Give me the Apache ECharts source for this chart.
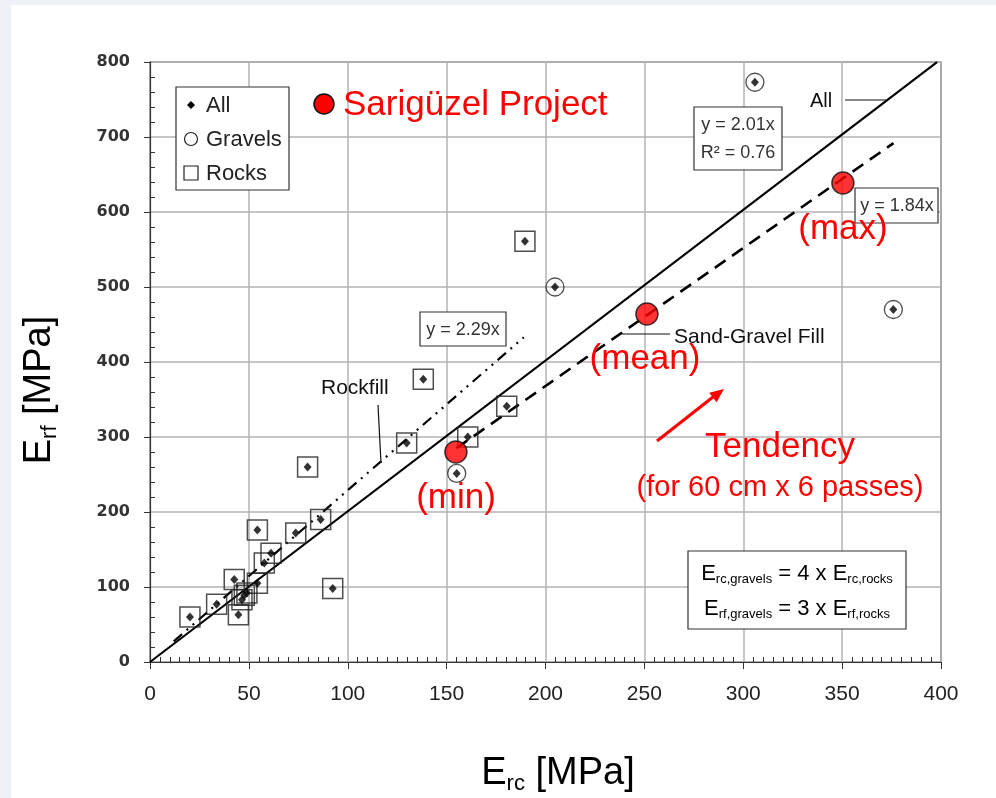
<!DOCTYPE html>
<html>
<head>
<meta charset="utf-8">
<script src="https://cdn.jsdelivr.net/npm/echarts@6/dist/echarts.min.js"></script>
<style>
  html, body { margin: 0; padding: 0; background: #eef2f6; }
  .card { position: absolute; left: 11px; top: 5px; right: 0; bottom: 0; background: #fff; }
  #chart { position: absolute; left: 0; top: 0; width: 996px; height: 798px; }
</style>
</head>
<body>
<div class="card"></div>
<div id="chart"></div>
<script>
  // rocks (squares)
  var rocksX = [20.2, 33.7, 42.6, 44.7, 46.5, 47.7, 49.0, 54.3, 54.3, 57.8, 61.2, 73.7, 79.7, 86.3, 92.4, 129.8, 138.2, 160.7, 180.4, 189.6];
  var rocksY = [60, 77, 110, 63, 83, 89, 92, 105, 176, 132, 145, 172, 260, 190, 98, 292, 377, 300, 341, 561];
  // gravels (circles)
  var gravelsX = [155.1, 204.8, 305.9, 375.9];
  var gravelsY = [251.5, 500, 773, 470];
  // Sarigüzel project (min, mean, max)
  var projectX = [154.7, 251.3, 350.4];
  var projectY = [280, 464, 638.7];
  // fitted slopes and ranges
  var slopeAll = 2.01, rangeAll = [0, 398];
  var slopeSand = 1.84, rangeSand = [155, 376];
  var slopeRock = 2.29, rangeRock = [12, 189];
  var xTicks = [0, 50, 100, 150, 200, 250, 300, 350, 400];
  var yTicks = [0, 100, 200, 300, 400, 500, 600, 700, 800];

  function pairs(xs, ys) {
    return xs.map(function (x, i) { return [x, ys[i]]; });
  }
  function fitLine(k, r) {
    return [[r[0], k * r[0]], [r[1], k * r[1]]];
  }

  var rocks = pairs(rocksX, rocksY);
  var gravels = pairs(gravelsX, gravelsY);
  var all = rocks.concat(gravels);

  var myChart = echarts.init(document.getElementById('chart'));

  var txt = '#222';
  var sans = '"Liberation Sans", Arial, sans-serif';

  function box(x, y, w, h) {
    return { type: 'rect', shape: { x: x, y: y, width: w, height: h }, style: { fill: '#fff', stroke: '#333', lineWidth: 1.2 }, z: 20 };
  }
  function label(x, y, text, size, color, align) {
    return { type: 'text', z: 21, style: { text: text, x: x, y: y, font: size + 'px ' + sans, fill: color || txt, align: align || 'center', verticalAlign: 'middle' } };
  }
  function seg(x1, y1, x2, y2, color, w) {
    return { type: 'line', shape: { x1: x1, y1: y1, x2: x2, y2: y2 }, style: { stroke: color || '#111', lineWidth: w || 1.2 }, z: 19 };
  }

  var subRich = {
    E: { fontSize: 22, fontFamily: sans, color: '#333', lineHeight: 24 },
    s: { fontSize: 13, fontFamily: sans, color: '#333', verticalAlign: 'bottom', lineHeight: 24 }
  };
  var titleRich = {
    a: { fontSize: 38, fontFamily: sans, color: txt, lineHeight: 42 },
    b: { fontSize: 22, fontFamily: sans, color: txt, verticalAlign: 'bottom', lineHeight: 42 }
  };

  myChart.setOption({
    animation: false,
    grid: { left: 150, right: 55, top: 62, bottom: 136, outerBoundsMode: 'none', containLabel: false, show: true, borderColor: '#444', borderWidth: 1.2 },
    xAxis: [{
      type: 'value', min: 0, max: 400, interval: 50,
      axisLine: { show: true, lineStyle: { color: '#333', width: 1.2 } },
      axisTick: { show: true, length: 7, lineStyle: { color: '#333' } },
      axisLabel: { margin: 22, fontSize: 21, fontFamily: sans, color: txt, formatter: function (v) { return xTicks.indexOf(v) >= 0 ? v : ''; } },
      splitLine: { show: true, lineStyle: { color: '#b3b3b3', width: 1.5 } }
    }, {
      type: 'value', min: 0, max: 400, interval: 50, position: 'bottom',
      axisLine: { show: false }, axisLabel: { show: false }, splitLine: { show: false },
      axisTick: { show: false, inside: true },
      minorTick: { show: true, splitNumber: 10, length: 5, lineStyle: { color: '#333' } }
    }],
    yAxis: [{
      type: 'value', min: 0, max: 800, interval: 100,
      axisLine: { show: true, lineStyle: { color: '#333', width: 1.2 } },
      axisTick: { show: true, length: 6, lineStyle: { color: '#333' } },
      axisLabel: { margin: 20, fontSize: 16, fontWeight: 'bold', fontFamily: '"DejaVu Sans", Verdana, sans-serif', color: '#333', formatter: function (v) { return yTicks.indexOf(v) >= 0 ? v : ''; } },
      splitLine: { show: true, lineStyle: { color: '#b3b3b3', width: 1.5 } }
    }, {
      type: 'value', min: 0, max: 800, interval: 100, position: 'left',
      axisLine: { show: false }, axisLabel: { show: false }, splitLine: { show: false },
      axisTick: { show: false, inside: true },
      minorTick: { show: true, splitNumber: 5, length: 5, lineStyle: { color: '#333' } }
    }],
    series: [
      {
        name: 'All fit', type: 'line', data: fitLine(slopeAll, rangeAll), showSymbol: false, symbol: 'none',
        lineStyle: { color: '#000', width: 2.2 }, z: 3, silent: true
      },
      {
        name: 'Sand-Gravel fit', type: 'line', data: fitLine(slopeSand, rangeSand), showSymbol: false, symbol: 'none',
        lineStyle: { color: '#000', width: 2.6, type: [13, 8] }, z: 3, silent: true
      },
      {
        name: 'Rockfill fit', type: 'line', data: fitLine(slopeRock, rangeRock), showSymbol: false, symbol: 'none',
        lineStyle: { color: '#000', width: 2.2, type: [11, 6, 2, 6, 2, 6] }, z: 3, silent: true
      },
      {
        name: 'Rocks', type: 'scatter', data: rocks, symbol: 'rect', symbolSize: 20,
        itemStyle: { color: 'rgba(255,255,255,0)', borderColor: '#222', borderWidth: 1.5 }, z: 4
      },
      {
        name: 'Gravels', type: 'scatter', data: gravels, symbol: 'circle', symbolSize: 18,
        itemStyle: { color: 'rgba(255,255,255,0)', borderColor: '#222', borderWidth: 1.3 }, z: 4
      },
      {
        name: 'All', type: 'scatter', data: all, symbol: 'diamond', symbolSize: [8, 9],
        itemStyle: { color: '#000' }, z: 5
      },
      {
        name: 'Sarigüzel Project', type: 'scatter', data: pairs(projectX, projectY), symbol: 'circle', symbolSize: 22,
        itemStyle: { color: '#ff0000', borderColor: '#111', borderWidth: 1.5 }, z: 6
      }
    ],
    graphic: [
      // axis titles
      { type: 'text', z: 21, x: 558, y: 774, style: { text: '{a|E}{b|rc}{a| [MPa]}', rich: titleRich, align: 'center', verticalAlign: 'middle' } },
      { type: 'text', z: 21, x: 40, y: 390, rotation: Math.PI / 2, style: { text: '{a|E}{b|rf}{a| [MPa]}', rich: titleRich, align: 'center', verticalAlign: 'middle' } },

      // legend
      box(176, 87, 113, 103),
      { type: 'polygon', shape: { points: [[191, 101], [195, 105], [191, 109], [187, 105]] }, style: { fill: '#000' }, z: 21 },
      label(206, 106, 'All', 22, txt, 'left'),
      { type: 'circle', shape: { cx: 191, cy: 139, r: 6.5 }, style: { fill: '#fff', stroke: '#222', lineWidth: 1.2 }, z: 21 },
      label(206, 140, 'Gravels', 22, txt, 'left'),
      { type: 'rect', shape: { x: 184, y: 166, width: 14, height: 14 }, style: { fill: '#fff', stroke: '#222', lineWidth: 1.2 }, z: 21 },
      label(206, 174, 'Rocks', 22, txt, 'left'),

      // project title
      { type: 'circle', shape: { cx: 324, cy: 104, r: 10 }, style: { fill: '#ff0000', stroke: '#111', lineWidth: 1.5 }, z: 21 },
      label(343, 105, 'Sarigüzel Project', 35, '#ff0000', 'left'),

      // fit labels
      box(694, 107, 88, 63),
      label(738, 125, 'y = 2.01x', 18, '#333'),
      label(738, 153, 'R² = 0.76', 18, '#333'),
      label(810, 101, 'All', 20, '#111', 'left'),
      seg(845, 100, 887, 100),
      box(855, 188, 83, 35),
      label(897, 206, 'y = 1.84x', 18, '#333'),
      box(420, 312, 86, 34),
      label(463, 330, 'y = 2.29x', 18, '#333'),
      label(321, 388, 'Rockfill', 21, '#111', 'left'),
      seg(378, 405, 381, 463),
      label(674, 337, 'Sand-Gravel Fill', 21, '#111', 'left'),
      seg(620, 334, 670, 334),

      // red annotations
      label(456, 498, '(min)', 35, '#ff0000'),
      label(645, 359, '(mean)', 35, '#ff0000'),
      label(843, 229, '(max)', 35, '#ff0000'),
      label(780, 447, 'Tendency', 35, '#ff0000'),
      label(780, 488, '(for 60 cm x 6 passes)', 29, '#ff0000'),
      seg(657, 441, 713, 397, '#ff0000', 3),
      { type: 'polygon', shape: { points: [[724, 389], [716.6, 402.3], [709.2, 392.7]] }, style: { fill: '#ff0000' }, z: 21 },

      // formula box
      box(688, 551, 218, 78),
      { type: 'text', z: 21, style: { x: 797, y: 574, align: 'center', verticalAlign: 'middle', text: '{E|E}{s|rc,gravels}{E| = 4 x E}{s|rc,rocks}', rich: subRich } },
      { type: 'text', z: 21, style: { x: 797, y: 609, align: 'center', verticalAlign: 'middle', text: '{E|E}{s|rf,gravels}{E| = 3 x E}{s|rf,rocks}', rich: subRich } }
    ]
  });
</script>
</body>
</html>
